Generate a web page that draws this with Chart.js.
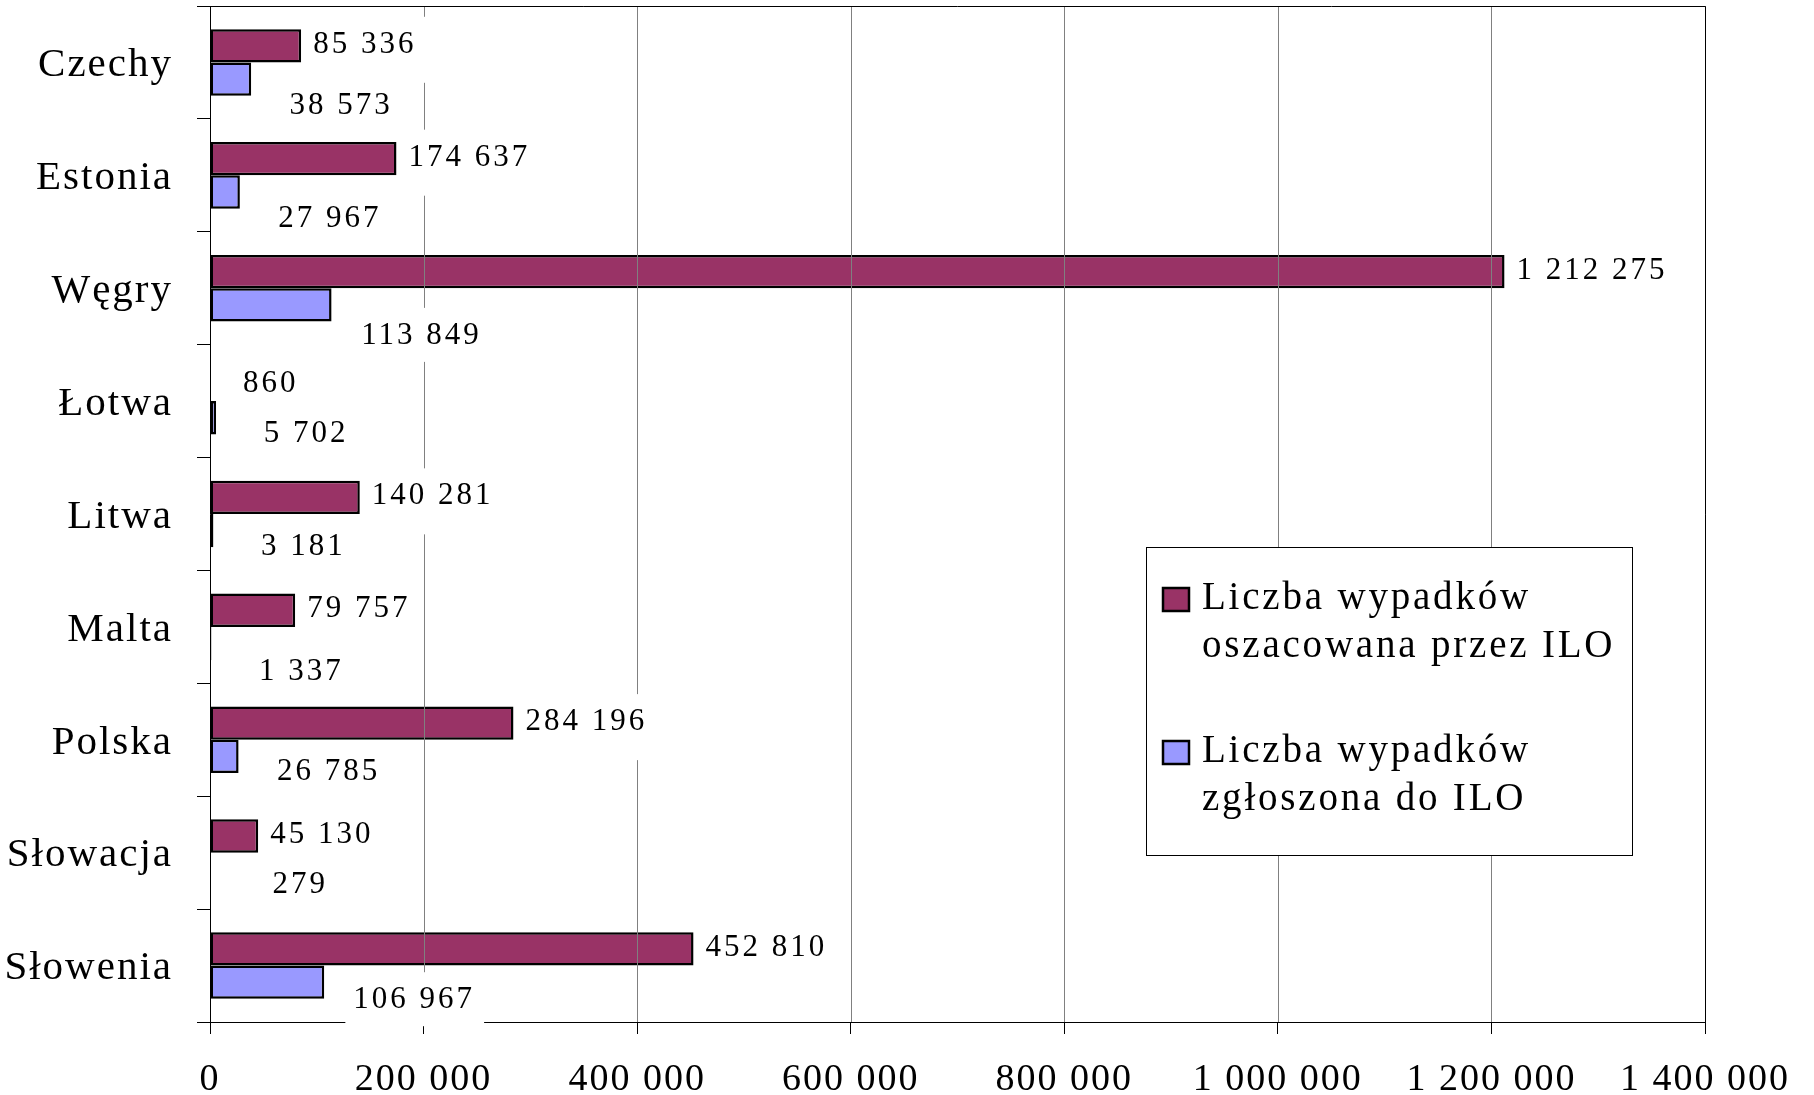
<!DOCTYPE html>
<html lang="pl">
<head>
<meta charset="utf-8">
<title>Wypadki przy pracy – szacunki ILO</title>
<script src="https://cdn.jsdelivr.net/npm/chart.js@4.4.1/dist/chart.umd.min.js"></script>
<style>
  html, body { margin: 0; padding: 0; background: #fff; }
  #chart { display: block; }
</style>
</head>
<body>
<canvas id="chart" width="1814" height="1095"></canvas>
<script>
// Countries and the two accident counts per country
const countries = ['Czechy', 'Estonia', 'Węgry', 'Łotwa', 'Litwa', 'Malta', 'Polska', 'Słowacja', 'Słowenia'];
const estimatedByIlo = [85336, 174637, 1212275, 860, 140281, 79757, 284196, 45130, 452810];
const reportedToIlo = [38573, 27967, 113849, 5702, 3181, 1337, 26785, 279, 106967];
const axisMax = 1400000;
const axisStep = 200000;
const legendLines = [
    ['Liczba wypadków', 'oszacowana przez ILO'],
    ['Liczba wypadków', 'zgłoszona do ILO']
];
// small vertical nudges for the "reported" value labels (px)
const reportedLabelNudge = [9, 9, 13, -2, -2, 10, -3, -2, 0];

const SERIF = '"Liberation Serif", "Times New Roman", serif';
const fmt = v => String(v).replace(/\B(?=(\d{3})+(?!\d))/g, ' ');

Chart.defaults.font.family = SERIF;
Chart.defaults.color = '#000';

// Spread letters a little, like the old office-style rendering
const spacing = {
    id: 'spacing',
    beforeDraw(chart) {
        chart.ctx.letterSpacing = '2px';
    }
};

// Gridlines on top of the bars, then value labels on white boxes
const overlay = {
    id: 'overlay',
    afterDatasetsDraw(chart) {
        const { ctx, chartArea: a, scales: { x } } = chart;
        ctx.save();
        ctx.lineWidth = 1;
        ctx.strokeStyle = '#808080';
        x.ticks.forEach(t => {
            if (t.value === 0) return;
            const px = Math.round(x.getPixelForValue(t.value)) + 0.5;
            ctx.beginPath();
            ctx.moveTo(px, a.top);
            ctx.lineTo(px, a.bottom);
            ctx.stroke();
        });
        ctx.strokeStyle = '#000';
        ctx.beginPath();
        ctx.moveTo(a.left, a.top + 0.5);
        ctx.lineTo(Math.round(a.right) + 0.5, a.top + 0.5);
        ctx.lineTo(Math.round(a.right) + 0.5, a.bottom);
        ctx.stroke();

        ctx.font = '31px ' + SERIF;
        ctx.letterSpacing = '3px';
        ctx.textBaseline = 'middle';
        ctx.textAlign = 'left';
        const zero = x.getPixelForValue(0);
        const items = [];
        chart.getDatasetMeta(0).data.forEach((bar, i) => {
            const text = fmt(estimatedByIlo[i]);
            const w = ctx.measureText(text).width;
            items.push({ text, w, left: Math.max(bar.x + 12, zero + 33), y: bar.y - 1, below: 38 });
        });
        chart.getDatasetMeta(1).data.forEach((bar, i) => {
            const text = fmt(reportedToIlo[i]);
            const w = ctx.measureText(text).width;
            items.push({ text, w, left: bar.x + 90 - w / 2, y: bar.y + 18 + reportedLabelNudge[i], below: 26 });
        });
        ctx.fillStyle = '#fff';
        items.forEach(it => ctx.fillRect(it.left - 8, it.y - 28, it.w + 17, 28 + it.below));
        ctx.fillStyle = '#000';
        items.forEach(it => ctx.fillText(it.text, it.left, it.y));
        ctx.restore();
    },
    afterDraw(chart) {
        const { ctx } = chart;
        const boxX = 1146, boxY = 547, boxW = 486, boxH = 308;
        ctx.save();
        ctx.fillStyle = '#fff';
        ctx.fillRect(boxX, boxY, boxW, boxH);
        ctx.strokeStyle = '#000';
        ctx.lineWidth = 1;
        ctx.strokeRect(boxX + 0.5, boxY + 0.5, boxW, boxH);

        ctx.font = '39px ' + SERIF;
        ctx.letterSpacing = '2.8px';
        ctx.textBaseline = 'alphabetic';
        ctx.textAlign = 'left';
        chart.data.datasets.forEach((ds, i) => {
            const top = boxY + 41 + i * 153;
            ctx.fillStyle = ds.backgroundColor;
            ctx.fillRect(boxX + 17, top, 26, 23);
            ctx.lineWidth = 2.5;
            ctx.strokeStyle = '#000';
            ctx.strokeRect(boxX + 17, top, 26, 23);
            ctx.fillStyle = '#000';
            legendLines[i].forEach((line, j) => {
                ctx.fillText(line, boxX + 56, top + 21 + j * 48);
            });
        });
        ctx.restore();
    }
};

new Chart(document.getElementById('chart'), {
    type: 'bar',
    data: {
        labels: countries,
        datasets: [
            {
                label: legendLines[0].join(' '),
                data: estimatedByIlo,
                backgroundColor: '#993366',
                borderColor: '#000',
                borderWidth: 2.5,
                borderSkipped: false
            },
            {
                label: legendLines[1].join(' '),
                data: reportedToIlo,
                backgroundColor: '#9999FF',
                borderColor: '#000',
                borderWidth: 2.5,
                borderSkipped: false
            }
        ]
    },
    options: {
        indexAxis: 'y',
        responsive: false,
        devicePixelRatio: 1,
        animation: false,
        events: [],
        categoryPercentage: 0.59,
        barPercentage: 1.0,
        layout: { padding: { top: 6, right: 109, bottom: 0, left: 0 } },
        plugins: {
            legend: { display: false },
            tooltip: { enabled: false }
        },
        scales: {
            x: {
                min: 0,
                max: axisMax,
                border: { color: '#000', width: 1 },
                grid: { drawOnChartArea: false, tickLength: 12, color: '#000' },
                ticks: {
                    stepSize: axisStep,
                    padding: 23,
                    font: { size: 38 },
                    callback: v => fmt(v)
                },
                afterFit(scale) {
                    scale.height = 73;
                    scale.paddingLeft = 0;
                    scale.paddingRight = 0;
                }
            },
            y: {
                border: { color: '#000', width: 1 },
                grid: { drawOnChartArea: false, tickLength: 13, color: '#000', offset: true },
                ticks: { padding: 24, labelOffset: 3, font: { size: 41 } },
                afterFit(scale) {
                    scale.width = 210;
                    scale.paddingTop = 0;
                    scale.paddingBottom = 0;
                }
            }
        }
    },
    plugins: [spacing, overlay]
});
</script>
</body>
</html>
